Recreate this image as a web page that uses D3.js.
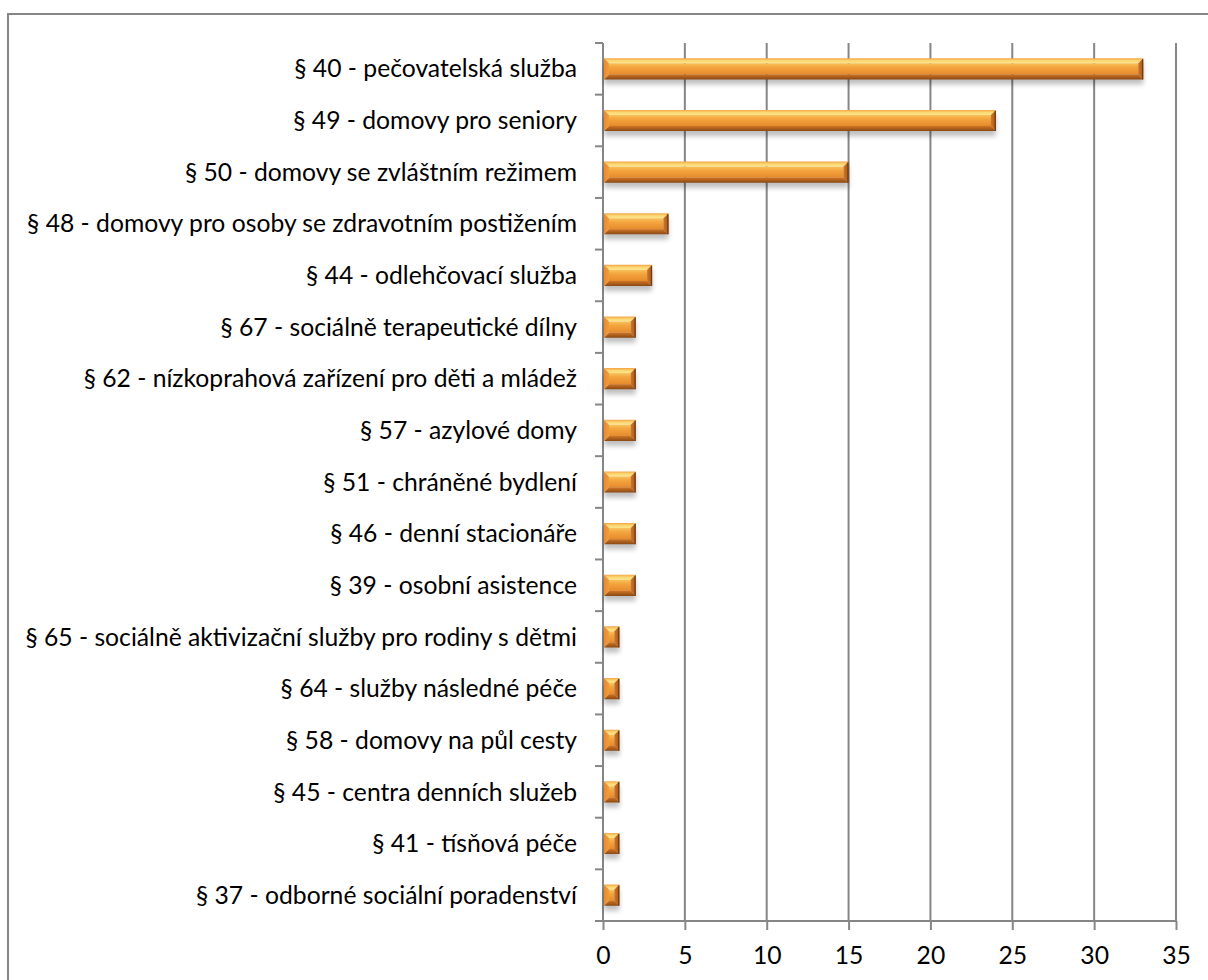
<!DOCTYPE html>
<html>
<head>
<meta charset="utf-8">
<script src="https://cdn.jsdelivr.net/npm/d3@7"></script>
<style>
  html, body { margin: 0; padding: 0; background: #fff; }
  svg { display: block; }
  text { font-family: Lato, "Open Sans", sans-serif; fill: #000; }
</style>
</head>
<body>
<script>
// Počet služeb podle druhu (§ zákona o sociálních službách)
const categories = [
  "§ 40 - pečovatelská služba",
  "§ 49 - domovy pro seniory",
  "§ 50 - domovy se zvláštním režimem",
  "§ 48 - domovy pro osoby se zdravotním postižením",
  "§ 44 - odlehčovací služba",
  "§ 67 - sociálně terapeutické dílny",
  "§ 62 - nízkoprahová zařízení pro děti a mládež",
  "§ 57 - azylové domy",
  "§ 51 - chráněné bydlení",
  "§ 46 - denní stacionáře",
  "§ 39 - osobní asistence",
  "§ 65 - sociálně aktivizační služby pro rodiny s dětmi",
  "§ 64 - služby následné péče",
  "§ 58 - domovy na půl cesty",
  "§ 45 - centra denních služeb",
  "§ 41 - tísňová péče",
  "§ 37 - odborné sociální poradenství"
];
const values = [33, 24, 15, 4, 3, 2, 2, 2, 2, 2, 2, 1, 1, 1, 1, 1, 1];
const xTicks = [0, 5, 10, 15, 20, 25, 30, 35];

const W = 1208, H = 980;
const plot = { left: 603, right: 1176, top: 43, bottom: 921 };
const gridColor = "#868686";

const svg = d3.select("body").append("svg")
  .attr("width", W).attr("height", H);

const defs = svg.append("defs");

function vGrad(id, stops, horizontal) {
  const g = defs.append("linearGradient").attr("id", id)
    .attr("x1", 0).attr("y1", 0)
    .attr("x2", horizontal ? 1 : 0).attr("y2", horizontal ? 0 : 1);
  stops.forEach(([o, c]) => g.append("stop").attr("offset", o).attr("stop-color", c));
}
// faces of the bevelled bar
vGrad("faceCenter", [[0, "#f9c25a"], [0.35, "#f4a53e"], [1, "#e68a2c"]]);
vGrad("faceTop", [[0, "#f3a444"], [0.5, "#fcd873"], [1, "#fde48a"]]);
vGrad("faceBottom", [[0, "#cf7424"], [1, "#8a4914"]]);
vGrad("faceLeft", [[0, "#e98a30"], [1, "#f29c3a"]], true);
vGrad("faceRight", [[0, "#cf7526"], [1, "#a65818"]], true);

const blur = defs.append("filter").attr("id", "shadow")
  .attr("x", "-20%").attr("y", "-50%").attr("width", "140%").attr("height", "200%");
blur.append("feGaussianBlur").attr("stdDeviation", 2.5);

// outer chart frame
svg.append("rect")
  .attr("x", 8).attr("y", 14).attr("width", 1400).attr("height", 1200)
  .attr("fill", "none").attr("stroke", gridColor).attr("stroke-width", 2);

const x = d3.scaleLinear().domain([0, 35]).range([plot.left, plot.right]);
const y = d3.scaleBand().domain(categories).range([plot.top, plot.bottom])
  .paddingInner(0.59).paddingOuter(0.295);

// vertical gridlines
svg.append("g").selectAll("line")
  .data(xTicks.filter(d => d > 0))
  .join("line")
  .attr("x1", d => x(d)).attr("x2", d => x(d))
  .attr("y1", plot.top).attr("y2", plot.bottom)
  .attr("stroke", gridColor).attr("stroke-width", 2);

// x axis
const xAxis = svg.append("g")
  .attr("transform", `translate(0,${plot.bottom})`)
  .call(d3.axisBottom(x).tickValues(xTicks).tickSize(9).tickPadding(16).tickSizeOuter(0));
xAxis.select(".domain").attr("stroke", gridColor).attr("stroke-width", 2)
  .attr("d", `M${plot.left - 8},0H${plot.right}`);
xAxis.selectAll(".tick line").attr("stroke", gridColor).attr("stroke-width", 2);
xAxis.selectAll(".tick text").attr("font-size", 22).attr("fill", "#000")
  .attr("font-family", "Lato, 'Open Sans', sans-serif");

// y axis: line with ticks at category boundaries
const yAxis = svg.append("g");
yAxis.append("line")
  .attr("x1", plot.left).attr("x2", plot.left)
  .attr("y1", plot.top).attr("y2", plot.bottom)
  .attr("stroke", gridColor).attr("stroke-width", 2);
const step = y.step();
const boundaries = d3.range(categories.length + 1).map(i => plot.top + i * step);
yAxis.selectAll("line.tk").data(boundaries).join("line").attr("class", "tk")
  .attr("x1", plot.left - 8).attr("x2", plot.left)
  .attr("y1", d => d).attr("y2", d => d)
  .attr("stroke", gridColor).attr("stroke-width", 2);

// category labels
const labels = svg.append("g").selectAll("text")
  .data(categories).join("text")
  .attr("x", 577)
  .attr("y", d => y(d) + y.bandwidth() / 2)
  .attr("dy", "0.35em")
  .attr("text-anchor", "end")
  .attr("font-size", 22)
  .text(d => d);

// fit the label size so the longest label spans its measured width
let maxW = 0;
labels.each(function () { maxW = Math.max(maxW, this.getComputedTextLength()); });
const fs = 22 * 552 / maxW;
labels.attr("font-size", fs);
xAxis.selectAll(".tick text").attr("font-size", fs);

// bars with bevelled faces
const h = y.bandwidth();
const bars = svg.append("g").selectAll("g")
  .data(categories.map((c, i) => ({ c, v: values[i] })))
  .join("g")
  .each(function (d) {
    const g = d3.select(this);
    const x0 = x(0) + 1, x1 = x(d.v), y0 = y(d.c), y1 = y0 + h;
    const b = Math.min(5, (x1 - x0) / 2);
    g.append("rect")
      .attr("x", x0).attr("y", y0 + 5).attr("width", x1 - x0).attr("height", h)
      .attr("fill", "#000").attr("opacity", 0.25).attr("filter", "url(#shadow)");
    const poly = (pts, fill) => g.append("path")
      .attr("d", "M" + pts.map(p => p.join(",")).join("L") + "Z")
      .attr("fill", fill);
    poly([[x0 + b, y0 + b], [x1 - b, y0 + b], [x1 - b, y1 - b], [x0 + b, y1 - b]], "url(#faceCenter)");
    poly([[x0, y0], [x1, y0], [x1 - b, y0 + b], [x0 + b, y0 + b]], "url(#faceTop)");
    poly([[x0, y1], [x1, y1], [x1 - b, y1 - b], [x0 + b, y1 - b]], "url(#faceBottom)");
    poly([[x0, y0], [x0 + b, y0 + b], [x0 + b, y1 - b], [x0, y1]], "url(#faceLeft)");
    poly([[x1, y0], [x1 - b, y0 + b], [x1 - b, y1 - b], [x1, y1]], "url(#faceRight)");
    g.append("line")
      .attr("x1", x1 - 0.6).attr("x2", x1 - 0.6).attr("y1", y0 + 1).attr("y2", y1)
      .attr("stroke", "#74390e").attr("stroke-width", 1.2);
  });
</script>
</body>
</html>
